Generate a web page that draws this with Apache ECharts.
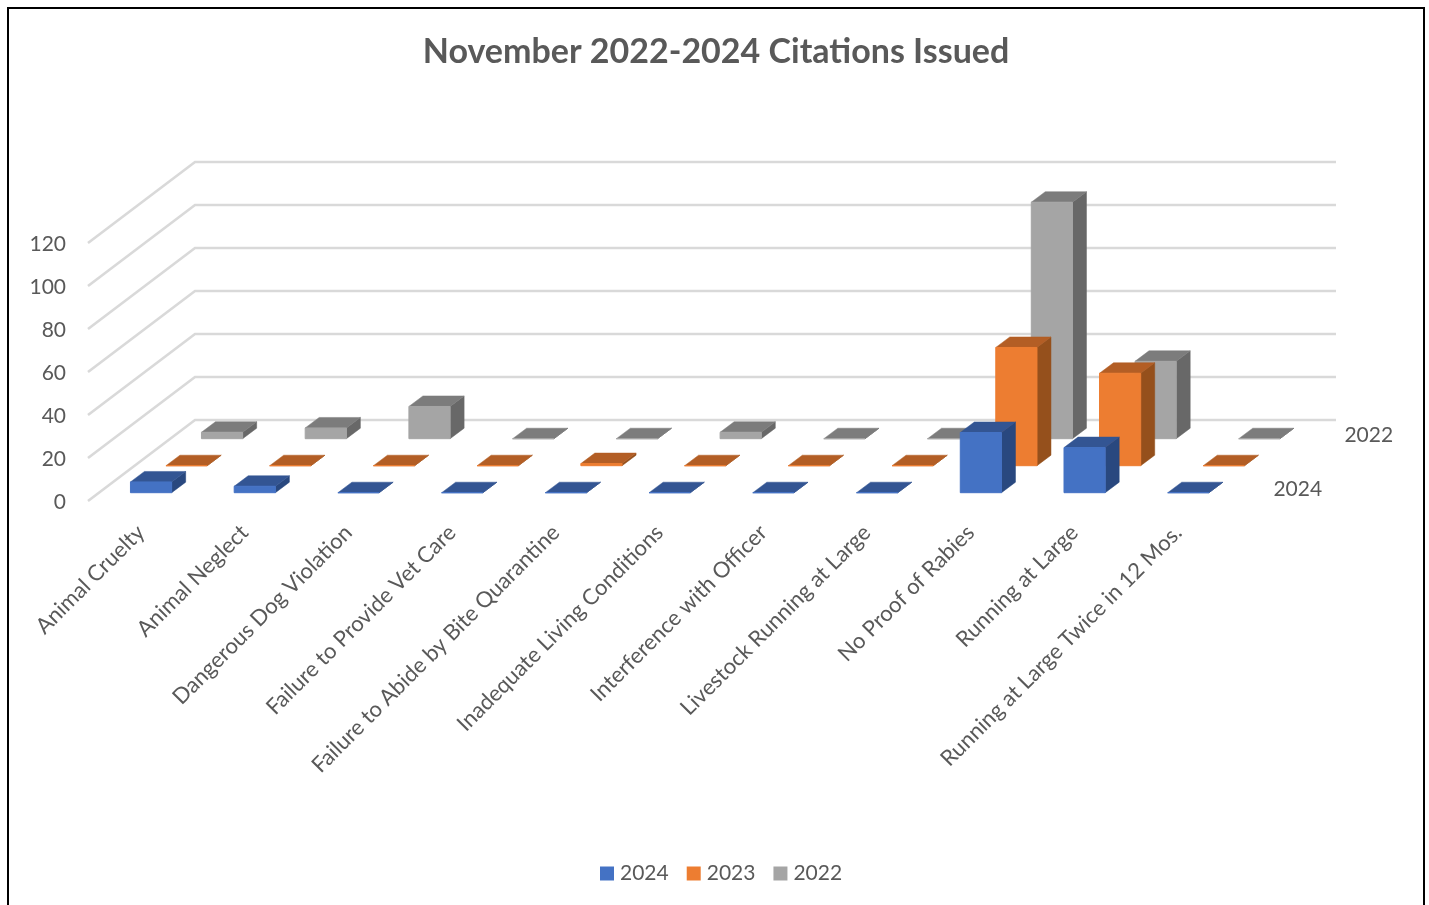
<!DOCTYPE html>
<html><head><meta charset="utf-8">
<style>html,body{margin:0;padding:0;background:#fff;overflow:hidden}#c{width:1429px;height:905px}</style>
<script src="https://cdn.jsdelivr.net/npm/echarts@6/dist/echarts.min.js"></script>
</head><body><div id="c"></div>
<script>
const titleText = 'November 2022-2024 Citations Issued';
const categories = ['Animal Cruelty','Animal Neglect','Dangerous Dog Violation','Failure to Provide Vet Care','Failure to Abide by Bite Quarantine','Inadequate Living Conditions','Interference with Officer','Livestock Running at Large','No Proof of Rabies','Running at Large','Running at Large Twice in 12 Mos.'];
const yTicks = [0,20,40,60,80,100,120];
const values2024 = [5,3,0,0,0,0,0,0,28,21,0];
const values2023 = [0,0,0,0,1,0,0,0,55,43,0];
const values2022 = [3,5,15,0,0,3,0,0,110,36,0];
const depthLabels = [['2024',0],['2022',2]];

const FONT = 'Lato';
const TEXT = '#595959';
const GRID_LINE = '#d9d9d9';
const WALL = [107,-81];          // oblique offset, front plane to back wall
const STEP = [35.5,-27];         // offset per depth row
const FIRST = [11.2,-8.3];       // offset of the first row's front face
const BAR_HALF = 20.6;
const BAR_DEPTH = [14,-10.5];

function bar3d(depth, face, top, side){
  return function(params, api){
    const p = api.coord([api.value(0), api.value(1)]);
    const b = api.coord([api.value(0), 0]);
    const dx = FIRST[0]+STEP[0]*depth, dy = FIRST[1]+STEP[1]*depth;
    const l = p[0]+dx-BAR_HALF, r = p[0]+dx+BAR_HALF;
    const yt = p[1]+dy, yb = b[1]+dy;
    const [ox,oy] = BAR_DEPTH;
    const poly = (pts,fill,stroke)=>({type:'polygon',shape:{points:pts},style:{fill:fill,stroke:stroke||fill,lineWidth:stroke?1:0.5}});
    return {type:'group',children:[
      poly([[r,yt],[r+ox,yt+oy],[r+ox,yb+oy],[r,yb]],side),
      poly([[l,yt],[l+ox,yt+oy],[r+ox,yt+oy],[r,yt]],top),
      poly([[l,yt],[r,yt],[r,yb],[l,yb]],face,face)
    ]};
  };
}
function barSeries(name, vals, depth, face, top, side){
  return {name:name,type:'custom',z:10-depth,coordinateSystem:'cartesian2d',
    itemStyle:{color:face},
    data:vals.map((v,i)=>[i,v]),
    encode:{x:0,y:1},
    renderItem:bar3d(depth,face,top,side)};
}
const wallSeries = {type:'custom',z:1,silent:true,coordinateSystem:'cartesian2d',
  data:yTicks.map(v=>[0,v]),encode:{x:0,y:1},
  renderItem:function(params,api){
    const p = api.coord([0,api.value(1)]);
    const band = api.size([1,0])[0];
    const x0 = p[0]-band/2, y0 = p[1];
    const xb = x0+WALL[0], yb = y0+WALL[1];
    return {type:'polyline',shape:{points:[[x0,y0],[xb,yb],[xb+band*categories.length,yb]]},
      style:{fill:null,stroke:GRID_LINE,lineWidth:2.6}};
  }};
const depthSeries = {type:'custom',z:2,silent:true,coordinateSystem:'cartesian2d',
  data:depthLabels.map(d=>[categories.length-1,0,d[0],d[1]]),encode:{x:0,y:1},
  renderItem:function(params,api){
    const p = api.coord([api.value(0),0]);
    const band = api.size([1,0])[0];
    const d = api.value(3);
    return {type:'text',style:{
      x:p[0]+band/2+FIRST[0]+STEP[0]*d+33.2,
      y:p[1]+FIRST[1]+STEP[1]*d-3.7,
      text:String(api.value(2)),fill:TEXT,font:'21px '+FONT,align:'left',verticalAlign:'middle'}};
  }};

const chart = echarts.init(document.getElementById('c'),null,{renderer:'canvas'});
chart.setOption({
  animation:false,
  backgroundColor:'#fff',
  textStyle:{fontFamily:FONT},
  title:{text:titleText,left:711,top:30,textAlign:'center',
    textStyle:{fontFamily:FONT,fontSize:34,fontWeight:'bold',color:TEXT}},
  legend:{left:595,top:858,itemWidth:14,itemHeight:14,itemGap:18,icon:'rect',
    data:['2024','2023','2022'],
    textStyle:{fontFamily:FONT,fontSize:21,color:TEXT,padding:[0,0,0,1]}},
  grid:{left:88,top:243,width:1141,height:258},
  xAxis:{type:'category',data:categories,
    axisLine:{show:false},axisTick:{show:false},splitLine:{show:false},
    axisLabel:{interval:0,rotate:45,margin:29,padding:[0,-1.5,0,0],fontFamily:FONT,fontSize:22,color:TEXT}},
  yAxis:{type:'value',min:0,max:120,interval:20,
    axisLine:{show:false},axisTick:{show:false},splitLine:{show:false},
    axisLabel:{margin:22,formatter:'{a|{value}}',rich:{a:{padding:[3,0,0,0],fontFamily:FONT,fontSize:21,color:TEXT}}}},
  graphic:[{type:'rect',z:0,silent:true,shape:{x:8,y:8,width:1416,height:920},style:{fill:null,stroke:'#000',lineWidth:2}}],
  series:[
    wallSeries,depthSeries,
    barSeries('2024',values2024,0,'#4472c4','#335593','#29487f'),
    barSeries('2023',values2023,1,'#ed7d31','#b35e25','#95501c'),
    barSeries('2022',values2022,2,'#a5a5a5','#7c7c7c','#686868')
  ]
});
</script></body></html>
